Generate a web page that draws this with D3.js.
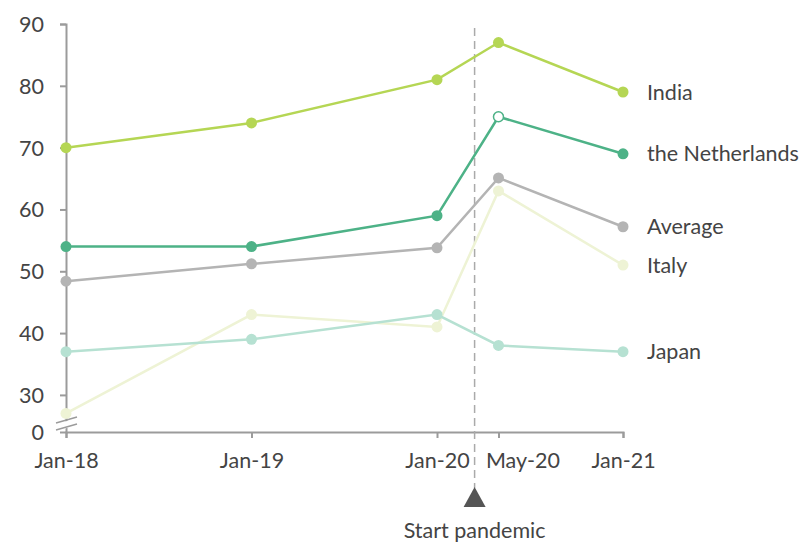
<!DOCTYPE html>
<html>
<head>
<meta charset="utf-8">
<script src="https://cdn.jsdelivr.net/npm/d3@7"></script>
<style>
  html, body { margin: 0; padding: 0; background: #fff; }
  svg { display: block; font-family: Lato, "Open Sans", sans-serif; }
</style>
</head>
<body>
<svg id="chart" width="803" height="542"></svg>
<script>
// Survey dates and series values
const dates = ["2018-01-01", "2019-01-01", "2020-01-01", "2020-05-01", "2021-01-01"];
const dateLabels = ["Jan-18", "Jan-19", "Jan-20", "May-20", "Jan-21"];
const pandemicStart = "2020-03-15";

const india = [70, 74, 81, 87, 79];
const netherlands = [54, 54, 59, 75, 69];
const average = [48.4, 51.2, 53.8, 65.1, 57.2];
const italy = [27, 43, 41, 63, 51];
const japan = [37, 39, 43, 38, 37];

const seriesNames = ["India", "the Netherlands", "Average", "Italy", "Japan"];
const seriesColors = ["#b5d654", "#4db287", "#b4b4b4", "#eef3d5", "#b6e1d2"];

// Y axis: broken axis, the bottom stub is labelled 0
const yTicks = [30, 40, 50, 60, 70, 80, 90];
const yFloor = 24;

const fontSize = 21.5;
const parse = d3.timeParse("%Y-%m-%d");
const svg = d3.select("#chart");

const x = d3.scaleTime()
  .domain([parse(dates[0]), parse(dates[dates.length - 1])])
  .range([66, 623]);
const y = d3.scaleLinear().domain([yFloor, 90]).range([432, 24]);

const axisColor = "#9b9b9b";
const textColor = "#444";

// Y axis
const yAxis = svg.append("g").attr("transform", "translate(66,0)")
  .call(d3.axisLeft(y).tickValues([yFloor, ...yTicks])
    .tickFormat(d => d === yFloor ? "0" : d).tickSize(6).tickPadding(16));
// X axis
const xAxis = svg.append("g").attr("transform", "translate(0,432)")
  .call(d3.axisBottom(x).tickValues(dates.map(parse))
    .tickFormat((d, i) => dateLabels[i]).tickSize(6).tickPadding(15));

[yAxis, xAxis].forEach(g => {
  g.select(".domain").attr("stroke", axisColor).attr("stroke-width", 2);
  g.selectAll(".tick line").attr("stroke", axisColor).attr("stroke-width", 2);
  g.selectAll(".tick text").attr("fill", textColor).attr("font-size", fontSize)
    .attr("font-family", "Lato, sans-serif");
});
yAxis.selectAll(".tick").filter(d => d === yFloor).select("line").remove();
yAxis.selectAll(".tick text").attr("dy", "0.35em");
// the May-20 label sits to the right of the pandemic marker
xAxis.selectAll(".tick text").filter((d, i) => i === 3).attr("x", 24);

// Axis break marks
const brk = svg.append("g");
brk.append("polygon")
  .attr("points", "56,424 78,418 78,425 56,431")
  .attr("fill", "#fff");
brk.append("line").attr("x1", 56).attr("y1", 423).attr("x2", 77).attr("y2", 417)
  .attr("stroke", axisColor).attr("stroke-width", 1.5);
brk.append("line").attr("x1", 56).attr("y1", 430).attr("x2", 77).attr("y2", 424)
  .attr("stroke", axisColor).attr("stroke-width", 1.5);

// Pandemic marker
const px = x(parse(pandemicStart));
svg.append("line")
  .attr("x1", px).attr("x2", px).attr("y1", 28).attr("y2", 488)
  .attr("stroke", "#aaa").attr("stroke-width", 1.5).attr("stroke-dasharray", "8,5");
svg.append("path")
  .attr("d", `M${px},487 L${px - 11},507 L${px + 11},507 Z`)
  .attr("fill", "#555");
svg.append("text")
  .attr("x", px).attr("y", 538).attr("text-anchor", "middle")
  .attr("font-size", fontSize).attr("fill", textColor).text("Start pandemic");

// Series lines, points and end labels (drawn back to front)
const allSeries = [india, netherlands, average, italy, japan];
const order = [3, 4, 2, 1, 0];
const line = d3.line().x((d, i) => x(parse(dates[i]))).y(d => y(d));

order.forEach(k => {
  const vals = allSeries[k];
  const color = seriesColors[k];
  const g = svg.append("g");
  g.append("path").datum(vals).attr("d", line)
    .attr("fill", "none").attr("stroke", color).attr("stroke-width", 2.5);
  g.selectAll("circle").data(vals).join("circle")
    .attr("cx", (d, i) => x(parse(dates[i])))
    .attr("cy", d => y(d))
    .attr("r", (d, i) => (k === 1 && i === 3) ? 5 : 5.5)
    .attr("fill", (d, i) => (k === 1 && i === 3) ? "#fff" : color)
    .attr("stroke", (d, i) => (k === 1 && i === 3) ? color : "none")
    .attr("stroke-width", 1.5);
  g.append("text")
    .attr("x", 647).attr("y", y(vals[vals.length - 1]))
    .attr("dy", "0.35em").attr("font-size", fontSize).attr("fill", textColor)
    .text(seriesNames[k]);
});
</script>
</body>
</html>
